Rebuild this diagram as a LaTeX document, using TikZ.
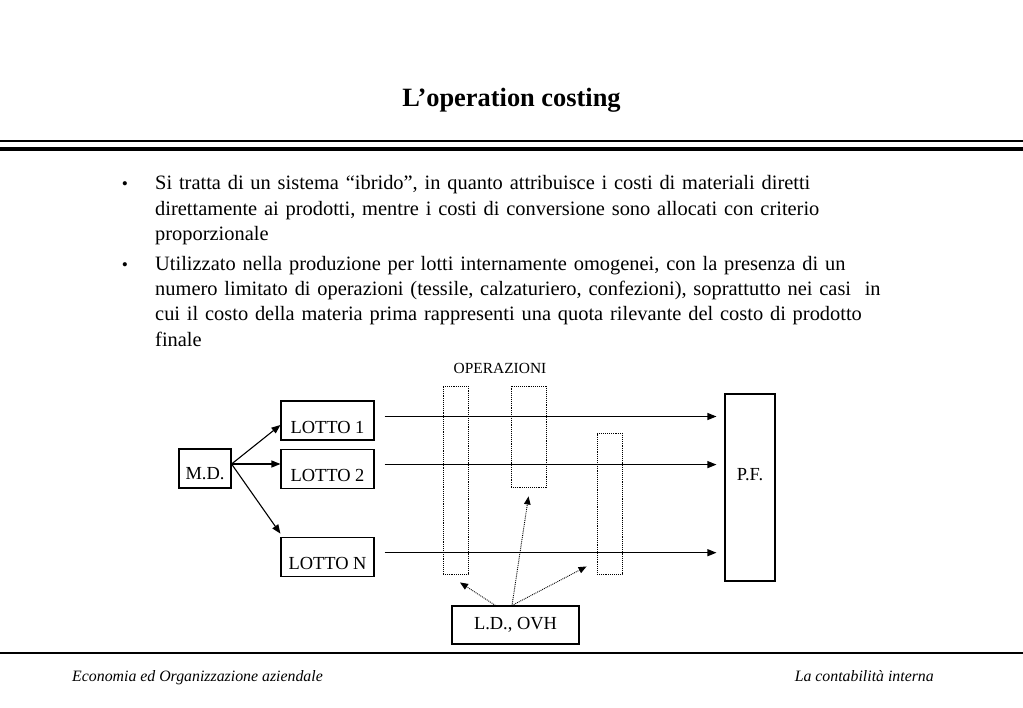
\documentclass[tikz,border=0pt]{standalone}
\usepackage{fontspec}
\setmainfont{Liberation Serif}
\usetikzlibrary{arrows.meta,positioning,calc}

\begin{document}
\begin{tikzpicture}[x=1bp, y=-1bp,
  box/.style={rectangle, draw, line width=1.1bp, inner sep=0pt,
              font=\fontsize{18.5}{21}\selectfont},
  lotto/.style={box, minimum width=93bp, minimum height=39bp,
                text height=26bp, text depth=0pt},
  oper/.style={rectangle, draw, densely dotted, line width=0.9bp, inner sep=0pt},
  arr/.style={-{Triangle[length=9bp,width=7bp]}, line width=1.1bp},
  darr/.style={-{Triangle[length=8bp,width=6.5bp]}, densely dotted, line width=0.9bp},
  body/.style={anchor=base west, inner sep=0pt, text width=800bp, align=left,
               font=\fontsize{20.5}{25.5}\selectfont},
  dot/.style={anchor=base, inner sep=0pt, font=\fontsize{17.5}{25.5}\selectfont},
  foot/.style={inner sep=0pt, font=\fontsize{15.9}{18}\selectfont\itshape}
]
  \useasboundingbox (0,0) rectangle (1023,708);

  \node[font=\fontsize{26.5}{30}\selectfont\bfseries] (title) at (511.5,100) {L’operation costing};
  \draw[line width=1.5bp] (0,141) -- (1023,141);
  \draw[line width=3.5bp] (0,149) -- (1023,149);

  \node[dot] (b1) at (125,190) {\textbullet};
  \node[body] (p1) at (155,190) {Si tratta di un sistema “ibrido”, in quanto attribuisce i costi di materiali diretti\\
    direttamente ai prodotti, mentre i costi di conversione sono allocati con criterio\\
    proporzionale};
  \node[dot] (b2) at (125,270) {\textbullet};
  \node[body] (p2) at (155,270) {Utilizzato nella produzione per lotti internamente omogenei, con la presenza di un\\
    numero limitato di operazioni (tessile, calzaturiero, confezioni), soprattutto nei casi\ \ in\\
    cui il costo della materia prima rappresenti una quota rilevante del costo di prodotto\\
    finale};

  \node[font=\fontsize{15.5}{18}\selectfont] (opl) at (500,368) {OPERAZIONI};

  \node[box, minimum width=52bp, minimum height=39bp,
        text height=21bp, text depth=0pt] (md) at (205,468.5) {M.D.};
  \node[lotto] (l1) at (327.5,420.5) {LOTTO 1};
  \node[lotto, below=8bp of l1] (l2) {LOTTO 2};
  \node[lotto, below=48bp of l2] (l3) {LOTTO N};
  \node[box, minimum width=50bp, minimum height=187bp,
        text height=12bp, text depth=26bp] (pf) at (750,487.5) {P.F.};

  \node[oper, minimum width=25bp, minimum height=188bp] (op1) at (455.5,480) {};
  \node[oper, minimum width=35bp, minimum height=101bp] (op2) at (528.5,436.5) {};
  \node[oper, minimum width=25bp, minimum height=141bp] (op3) at (609.5,503.5) {};

  \node[box, minimum width=127bp, minimum height=38bp] (ld) at (515.5,625) {L.D., OVH\hspace{12bp}};

  \coordinate (fan) at ($(md.east)+(0,-4.5)$);
  \draw[arr] (fan) -- ($(l1.west)+(0,4.5)$);
  \draw[arr] (fan) -- (fan -| l2.west);
  \draw[arr] (fan) -- ($(l3.north west)+(0,-3)$);

  \draw[arr] ($(l1.east)+(10,-4)$) -- ($(l1.east -| pf.west)+(-8,-4)$);
  \draw[arr] ($(l2.east)+(10,-4)$) -- ($(l2.east -| pf.west)+(-8,-4)$);
  \draw[arr] ($(l3.east)+(10,-4)$) -- ($(l3.east -| pf.west)+(-8,-4)$);

  \coordinate (t1) at ($(op1.south)+(4.5,8)$);
  \coordinate (t2) at ($(op2.south)+(0,9)$);
  \coordinate (t3) at ($(op3.south west)+(-10,-8)$);
  \draw[darr] ($(ld.north)+(-20,0)$) -- (t1);
  \draw[darr] ($(ld.north)+(-3.5,0)$) -- (t2);
  \draw[darr] ($(ld.north)+(-3.5,0)$) -- (t3);

  \draw[line width=2bp] (0,653) -- (1023,653);
  \node[foot, anchor=base west] (fl) at (72,681) {Economia ed Organizzazione aziendale};
  \node[foot, anchor=base east] (fr) at (934,681) {La contabilità interna};
\end{tikzpicture}
\end{document}
